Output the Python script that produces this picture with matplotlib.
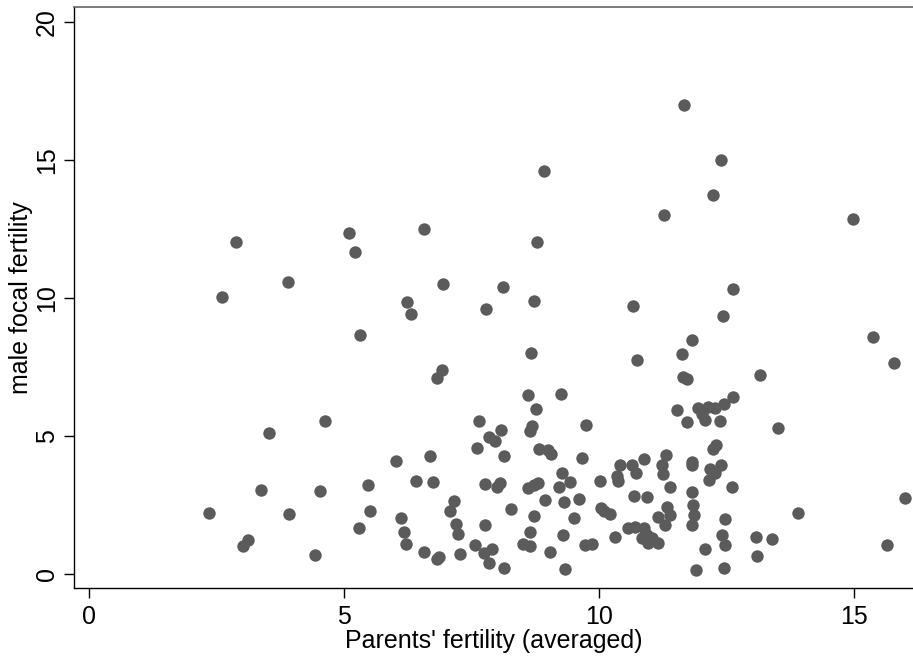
import matplotlib
matplotlib.use("Agg")
import matplotlib.pyplot as plt

plt.rcParams['font.family'] = ['Liberation Sans', 'DejaVu Sans']

# parents' averaged fertility vs. fertility of the male focal
parents_fert = [
    2.88, 2.60, 3.89, 3.53, 3.37, 2.34, 3.92, 3.12, 3.02, 4.43,
    4.52, 4.62, 8.92, 5.09, 6.56, 5.21, 8.78, 6.94, 8.11, 6.22,
    6.31, 7.78, 8.71, 11.67, 12.39, 12.22, 11.27, 14.97, 12.63, 10.67,
    12.43, 5.30, 6.92, 6.82, 7.65, 7.83, 7.95, 7.60, 6.02, 6.69,
    5.46, 6.41, 6.74, 7.76, 7.99, 8.05, 5.50, 7.16, 7.07, 6.12,
    5.29, 6.18, 7.19, 7.22, 7.76, 6.21, 6.57, 6.81, 6.86, 7.26,
    7.56, 7.73, 7.84, 7.90, 8.13, 8.67, 8.60, 9.24, 8.75, 9.74,
    8.69, 8.64, 8.07, 8.14, 8.82, 8.99, 9.05, 9.67, 10.41, 9.26,
    9.43, 8.61, 8.71, 8.79, 9.20, 10.01, 10.35, 10.36, 8.27, 8.94,
    9.31, 9.61, 10.03, 10.10, 10.21, 8.72, 9.51, 8.64, 9.29, 10.31,
    8.50, 8.64, 9.03, 9.72, 9.85, 9.33, 10.73, 11.82, 11.62, 11.65,
    11.71, 11.53, 11.72, 11.94, 12.01, 12.07, 12.14, 12.27, 12.45, 12.63,
    12.36, 13.16, 13.51, 12.29, 12.22, 10.88, 11.30, 11.81, 10.64, 10.71,
    11.22, 11.24, 11.81, 11.39, 11.81, 10.68, 10.93, 11.32, 11.39, 11.16,
    11.29, 11.84, 11.86, 11.82, 10.57, 10.70, 10.88, 10.93, 10.83, 11.03,
    11.15, 10.96, 12.38, 12.17, 12.27, 12.16, 12.60, 13.90, 15.99, 12.46,
    12.40, 12.46, 12.07, 13.07, 13.38, 13.10, 15.65, 11.90, 12.45, 15.36,
    15.77,
]
male_fert = [
    12.04, 10.04, 10.58, 5.11, 3.03, 2.22, 2.19, 1.23, 1.01, 0.68,
    3.01, 5.54, 14.58, 12.34, 12.50, 11.68, 12.04, 10.52, 10.39, 9.84,
    9.43, 9.60, 9.88, 16.99, 14.99, 13.74, 13.00, 12.87, 10.31, 9.72,
    9.35, 8.66, 7.39, 7.09, 5.54, 4.95, 4.83, 4.58, 4.11, 4.26,
    3.21, 3.38, 3.32, 3.26, 3.16, 3.29, 2.29, 2.64, 2.29, 2.03,
    1.68, 1.53, 1.80, 1.46, 1.78, 1.10, 0.81, 0.53, 0.63, 0.71,
    1.04, 0.75, 0.39, 0.92, 0.22, 8.02, 6.49, 6.52, 5.97, 5.39,
    5.36, 5.18, 5.21, 4.26, 4.53, 4.49, 4.35, 4.19, 3.94, 3.67,
    3.35, 3.11, 3.22, 3.29, 3.16, 3.38, 3.55, 3.36, 2.36, 2.68,
    2.62, 2.72, 2.38, 2.29, 2.17, 2.11, 2.02, 1.51, 1.41, 1.33,
    1.08, 1.03, 0.81, 1.05, 1.08, 0.17, 7.74, 8.48, 7.97, 7.15,
    7.07, 5.95, 5.50, 6.00, 5.80, 5.58, 6.06, 6.00, 6.15, 6.42,
    5.55, 7.21, 5.28, 4.67, 4.53, 4.17, 4.30, 4.07, 3.95, 3.65,
    3.95, 3.61, 3.95, 3.14, 2.98, 2.84, 2.79, 2.44, 2.14, 2.08,
    1.78, 2.50, 2.14, 1.78, 1.68, 1.71, 1.66, 1.41, 1.29, 1.32,
    1.13, 1.11, 3.95, 3.80, 3.65, 3.41, 3.16, 2.22, 2.74, 1.98,
    1.41, 1.05, 0.91, 1.33, 1.28, 0.64, 1.05, 0.16, 0.21, 8.58,
    7.66,
]
x_ticks = [0, 5, 10, 15]
y_ticks = [0, 5, 10, 15, 20]

fig = plt.figure(figsize=(9.13, 6.63), dpi=100)
ax = fig.add_axes([0.081, 0.113, 0.919, 0.8765])

ax.scatter(parents_fert, male_fert, s=80, color='#5b5b5b', linewidths=0, zorder=3)

ax.set_xlim(-0.30, 16.15)
ax.set_ylim(-0.51, 20.54)
ax.set_xticks(x_ticks)
ax.set_yticks(y_ticks)
ax.tick_params(axis='both', direction='out', length=7, width=1, labelsize=18)
ax.tick_params(axis='x', pad=5)
ax.tick_params(axis='y', pad=4)
for lbl in ax.get_yticklabels():
    lbl.set_rotation(90)
    lbl.set_va('center')

ax.spines['right'].set_visible(False)
ax.spines['top'].set_color('#666666')
ax.spines['top'].set_linewidth(1.2)
ax.spines['left'].set_linewidth(1)
ax.spines['bottom'].set_linewidth(1)

ax.set_xlabel("Parents' fertility (averaged)", fontsize=18, labelpad=0)
ax.set_ylabel("male focal fertility", fontsize=18, labelpad=1)

fig.savefig("out.png", dpi=100)
